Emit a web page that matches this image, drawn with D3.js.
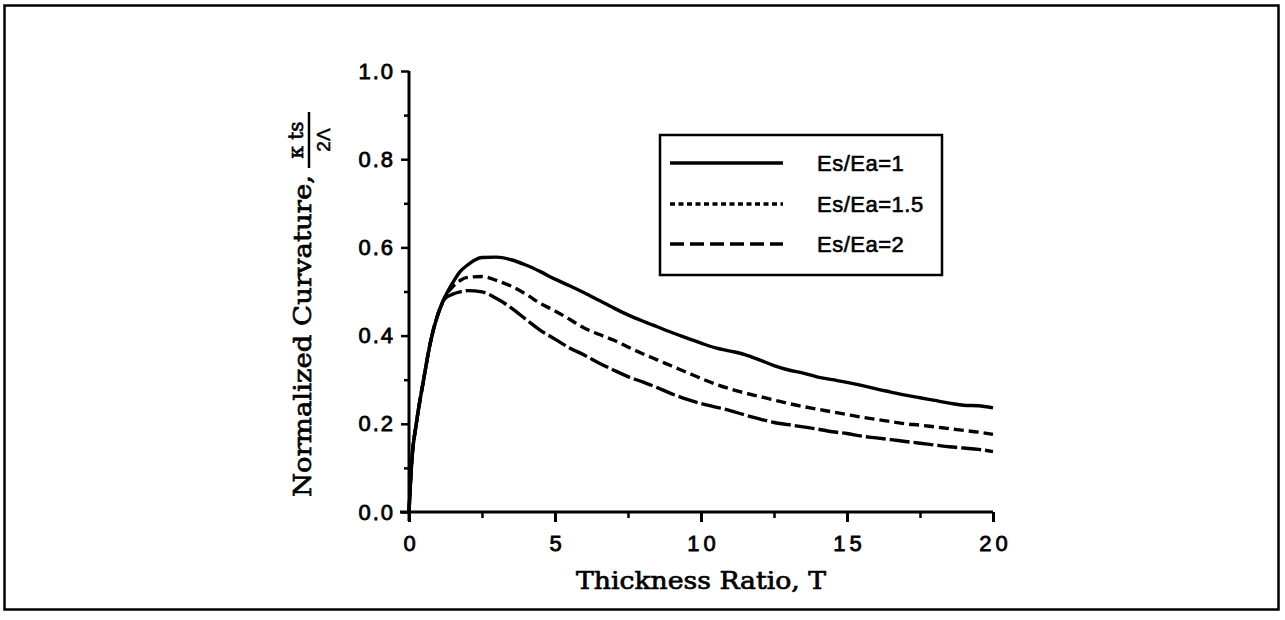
<!DOCTYPE html>
<html>
<head>
<meta charset="utf-8">
<script src="https://cdn.jsdelivr.net/npm/d3@7"></script>
<style>
  html, body { margin: 0; padding: 0; background: #fff; }
  svg { display: block; }
</style>
</head>
<body>
<svg id="chart" width="1285" height="620"></svg>
<script>
// ---- data ----
const thickness = [0, 0.1, 0.25, 0.5, 0.75, 1, 1.25, 1.5, 1.75, 2, 2.5, 3, 3.5, 4, 4.5, 5, 5.5, 6, 6.5, 7, 7.5, 8, 8.5, 9, 9.5, 10, 10.5, 11, 11.5, 12, 12.5, 13, 13.5, 14, 14.5, 15, 15.5, 16, 16.5, 17, 17.5, 18, 18.5, 19, 19.5, 20];
const curvE1 = [0, 0.12, 0.2, 0.3, 0.39, 0.45, 0.49, 0.52, 0.545, 0.56, 0.577, 0.578, 0.572, 0.56, 0.545, 0.528, 0.513, 0.497, 0.48, 0.463, 0.447, 0.433, 0.42, 0.407, 0.395, 0.383, 0.372, 0.365, 0.357, 0.345, 0.332, 0.322, 0.315, 0.306, 0.3, 0.294, 0.287, 0.279, 0.272, 0.265, 0.259, 0.253, 0.247, 0.242, 0.241, 0.236];
const curvE15 = [0, 0.12, 0.2, 0.3, 0.39, 0.45, 0.49, 0.511, 0.525, 0.532, 0.534, 0.525, 0.512, 0.494, 0.473, 0.456, 0.437, 0.417, 0.403, 0.39, 0.374, 0.359, 0.345, 0.331, 0.317, 0.303, 0.29, 0.279, 0.27, 0.262, 0.254, 0.246, 0.239, 0.233, 0.227, 0.221, 0.215, 0.21, 0.205, 0.2, 0.197, 0.193, 0.189, 0.185, 0.181, 0.176];
const curvE2 = [0, 0.12, 0.2, 0.3, 0.39, 0.45, 0.485, 0.494, 0.499, 0.502, 0.499, 0.484, 0.463, 0.437, 0.412, 0.392, 0.372, 0.356, 0.338, 0.322, 0.307, 0.295, 0.282, 0.268, 0.256, 0.246, 0.238, 0.23, 0.22, 0.211, 0.203, 0.198, 0.193, 0.188, 0.182, 0.178, 0.172, 0.168, 0.164, 0.16, 0.156, 0.152, 0.148, 0.145, 0.142, 0.137];
const seriesNames = ["Es/Ea=1", "Es/Ea=1.5", "Es/Ea=2"];
const xMajorTicks = [0, 5, 10, 15, 20];
const xMinorTicks = [2.5, 7.5, 12.5, 17.5];
const yMajorTicks = [0, 0.2, 0.4, 0.6, 0.8, 1.0];
const yMinorTicks = [0.1, 0.3, 0.5, 0.7, 0.9];
const xTitle = "Thickness Ratio, T";
const yTitle = "Normalized Curvature,";

// ---- layout ----
const svg = d3.select("#chart");
const x = d3.scaleLinear().domain([0, 20]).range([409, 993]);
const y = d3.scaleLinear().domain([0, 1]).range([512, 71]);
const ink = "#000";
const sans = "'Liberation Sans', Arial, Helvetica, sans-serif";
const serif = "'DejaVu Serif', 'Liberation Serif', serif";

// outer frame
svg.append("rect").attr("x", 4.5).attr("y", 5.5).attr("width", 1274).attr("height", 604)
  .attr("fill", "none").attr("stroke", ink).attr("stroke-width", 2.5);

// axes lines
svg.append("line").attr("x1", x(0)).attr("x2", x(0)).attr("y1", y(1)).attr("y2", y(0) + 9)
  .attr("stroke", ink).attr("stroke-width", 3);
svg.append("line").attr("x1", x(0) - 9).attr("x2", x(20)).attr("y1", y(0)).attr("y2", y(0))
  .attr("stroke", ink).attr("stroke-width", 3);

// y axis ticks
const yAxisMajor = d3.axisLeft(y).tickValues(yMajorTicks).tickSize(8).tickSizeOuter(0).tickPadding(6).tickFormat(d3.format(".1f"));
const gy = svg.append("g").attr("transform", `translate(${x(0)},0)`).call(yAxisMajor);
gy.select(".domain").remove();
gy.selectAll(".tick line").attr("stroke", ink).attr("stroke-width", 2.5);
gy.selectAll(".tick text").attr("font-family", sans).attr("font-size", 22)
  .attr("stroke", ink).attr("stroke-width", 0.8)
  .attr("letter-spacing", 2).attr("fill", ink);
const yAxisMinor = d3.axisLeft(y).tickValues(yMinorTicks).tickSize(5).tickSizeOuter(0).tickFormat("");
const gy2 = svg.append("g").attr("transform", `translate(${x(0)},0)`).call(yAxisMinor);
gy2.select(".domain").remove();
gy2.selectAll(".tick line").attr("stroke", ink).attr("stroke-width", 2.5);

// x axis ticks
const xAxisMajor = d3.axisBottom(x).tickValues(xMajorTicks).tickSize(10).tickSizeOuter(0).tickPadding(13).tickFormat(d3.format("d"));
const gx = svg.append("g").attr("transform", `translate(0,${y(0)})`).call(xAxisMajor);
gx.select(".domain").remove();
gx.selectAll(".tick line").attr("stroke", ink).attr("stroke-width", 3);
gx.selectAll(".tick text").attr("font-family", sans).attr("font-size", 22)
  .attr("stroke", ink).attr("stroke-width", 0.8)
  .attr("letter-spacing", 4).attr("fill", ink).attr("dx", 2);
const xAxisMinor = d3.axisBottom(x).tickValues(xMinorTicks).tickSize(6).tickSizeOuter(0).tickFormat("");
const gx2 = svg.append("g").attr("transform", `translate(0,${y(0)})`).call(xAxisMinor);
gx2.select(".domain").remove();
gx2.selectAll(".tick line").attr("stroke", ink).attr("stroke-width", 2.5);

// titles
svg.append("text").attr("x", (x(0) + x(20)) / 2).attr("y", 589)
  .attr("text-anchor", "middle").attr("font-family", serif).attr("font-size", 24)
  .attr("stroke", ink).attr("stroke-width", 0.7)
  .attr("textLength", 250).attr("lengthAdjust", "spacingAndGlyphs")
  .attr("fill", ink).text(xTitle);

const gyt = svg.append("g").attr("transform", "rotate(-90)");
gyt.append("text").attr("x", -336).attr("y", 311)
  .attr("text-anchor", "middle").attr("font-family", serif).attr("font-size", 25)
  .attr("stroke", ink).attr("stroke-width", 0.7)
  .attr("textLength", 322).attr("lengthAdjust", "spacingAndGlyphs")
  .attr("fill", ink).text(yTitle);
// fraction  κ ts / 2Λ
gyt.append("text").attr("x", -140).attr("y", 303).attr("text-anchor", "middle")
  .attr("font-family", serif).attr("font-size", 20).attr("stroke", ink).attr("stroke-width", 0.7)
  .attr("fill", ink).text("κ ts");
gyt.append("line").attr("x1", -168).attr("x2", -112).attr("y1", 309).attr("y2", 309)
  .attr("stroke", ink).attr("stroke-width", 2.5);
gyt.append("text").attr("x", -140).attr("y", 330).attr("text-anchor", "middle")
  .attr("font-family", sans).attr("font-size", 19).attr("stroke", ink).attr("stroke-width", 0.5)
  .attr("fill", ink).text("2Λ");

// curves
const series = [
  { name: seriesNames[0], values: curvE1, dash: null, legendDash: null },
  { name: seriesNames[1], values: curvE15, dash: "10,5", legendDash: "5,3.5" },
  { name: seriesNames[2], values: curvE2, dash: "20,4", legendDash: "14,6" }
];
const line = d3.line().x(d => x(d[0])).y(d => y(d[1])).curve(d3.curveMonotoneX);
series.slice().reverse().forEach(s => {
  svg.append("path").datum(thickness.map((t, i) => [t, s.values[i]]))
    .attr("d", line).attr("fill", "none").attr("stroke", ink).attr("stroke-width", 3.4)
    .attr("stroke-linejoin", "round")
    .attr("stroke-dasharray", s.dash);
});

// legend
const lg = svg.append("g");
lg.append("rect").attr("x", 660).attr("y", 135).attr("width", 282).attr("height", 140)
  .attr("fill", "#fff").attr("stroke", ink).attr("stroke-width", 2.5);
const rowsY = [163, 204, 244];
series.forEach((s, i) => {
  lg.append("line").attr("x1", 670).attr("x2", 783).attr("y1", rowsY[i]).attr("y2", rowsY[i])
    .attr("stroke", ink).attr("stroke-width", 3.4).attr("stroke-dasharray", s.legendDash);
  lg.append("text").attr("x", 817).attr("y", rowsY[i] + 8).attr("font-family", sans)
    .attr("font-size", 22).attr("stroke", ink).attr("stroke-width", 0.6)
    .attr("letter-spacing", 0.5).attr("fill", ink).text(s.name);
});
</script>
</body>
</html>
